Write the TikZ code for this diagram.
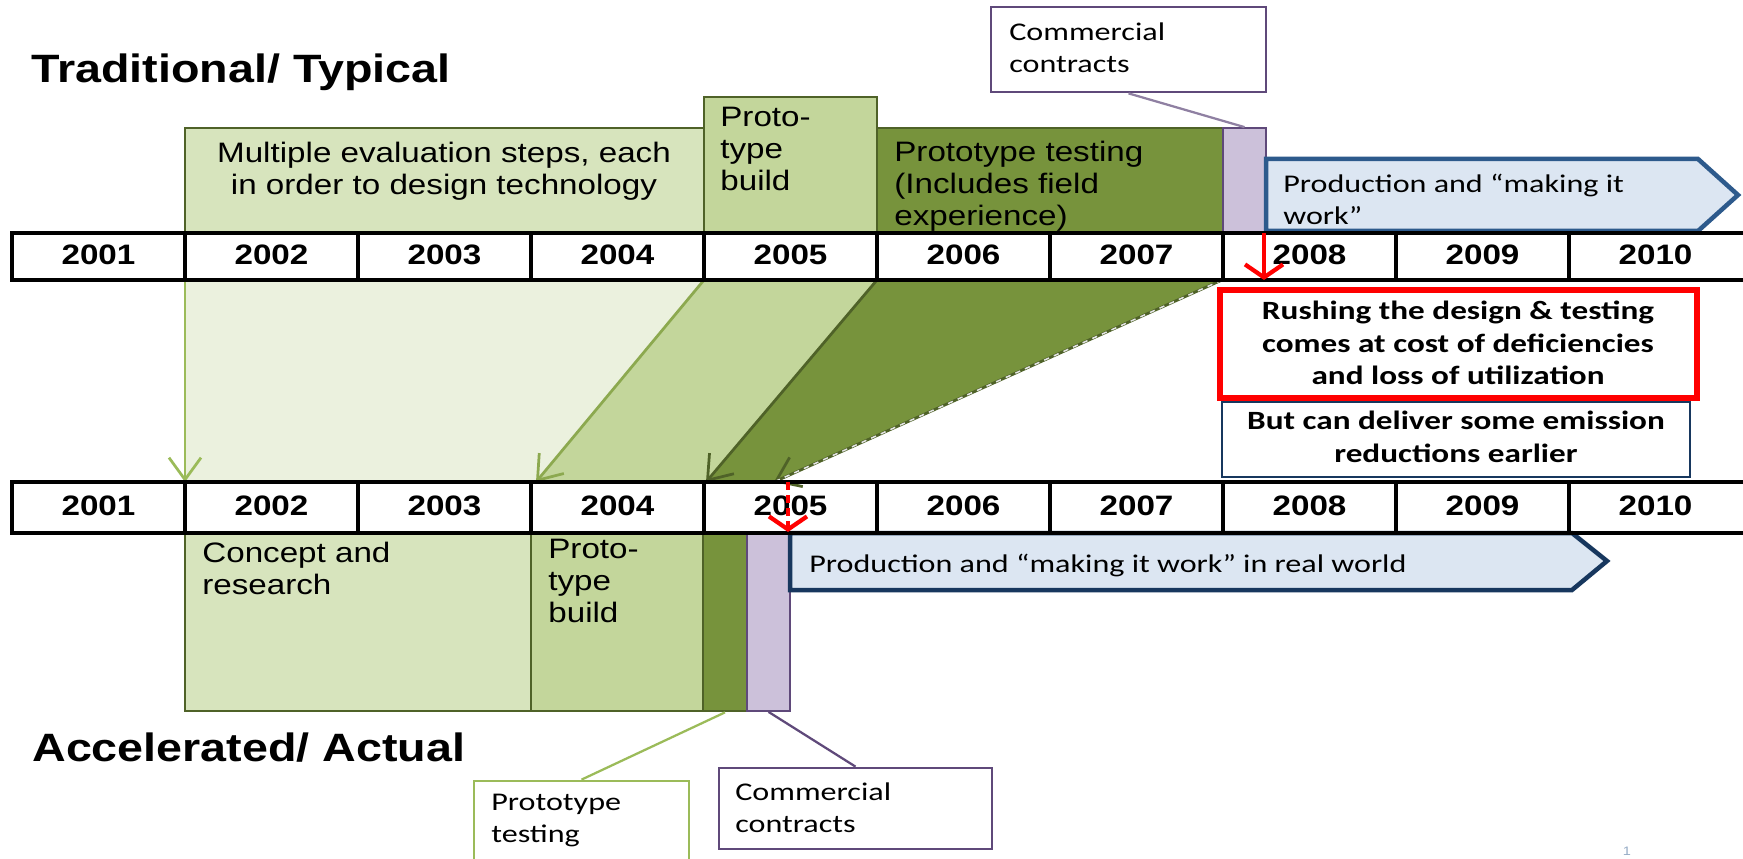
\documentclass[tikz,border=0pt]{standalone}
\usepackage{fontspec}
\setmainfont{Liberation Sans}[FakeStretch=1.18]
\newfontfamily\calfont{Carlito}[FakeStretch=1.26]
\usetikzlibrary{arrows.meta}
\usetikzlibrary{fit}
\definecolor{palegreen}{RGB}{235,241,222}
\definecolor{lightolive}{RGB}{215,228,189}
\definecolor{midolive}{RGB}{195,214,155}
\definecolor{darkolive}{RGB}{119,147,60}
\definecolor{olivedge}{RGB}{79,98,40}
\definecolor{olivearrow}{RGB}{155,187,89}
\definecolor{lilac}{RGB}{204,193,218}
\definecolor{lilacedge}{RGB}{95,73,122}
\definecolor{prodfill}{RGB}{220,230,242}
\definecolor{prodedge}{RGB}{45,90,140}
\definecolor{navy}{RGB}{23,55,94}

\begin{document}
\begin{tikzpicture}[x=0.2mm, y=-0.2mm,
	gbox/.style={inner sep=0pt, draw=olivedge, line width=0.55mm},
	lbox/.style={inner sep=0pt, draw=lilacedge, fill=lilac, line width=0.35mm},
	callbox/.style={inner sep=0pt, fill=white, line width=0.55mm},
	txt/.style={inner sep=0pt, align=left, anchor=north west, font=\fontsize{16}{18.2}\selectfont},
	ctxt/.style={inner sep=0pt, align=left, anchor=north west, font=\calfont\fontsize{14.5}{18.2}\selectfont},
	btxt/.style={inner sep=0pt, align=center, anchor=north, font=\calfont\fontsize{15}{18.5}\selectfont\bfseries},
	year/.style={inner sep=0pt, font=\fontsize{16}{18}\selectfont\bfseries},
	yearline/.style={line width=0.7mm},
	garrow/.style={line width=0.55mm, -{Straight Barb[length=4.4mm, width=6.4mm]}},
	rarrow/.style={red, line width=0.85mm, -{Straight Barb[length=2.6mm, width=7.6mm]}},
	headline/.style={inner sep=0pt, anchor=base west, font=\fontsize{22.5}{26}\selectfont\bfseries}]

	\useasboundingbox[fill=white] (0,0) rectangle (1743,859);

	\node[headline] (trad) at (31,83) {Traditional/ Typical};
	\node[headline] (accel) at (32,761) {Accelerated/ Actual};

	% shift from the typical to the actual time line
	\coordinate (u1) at (185,280);
	\coordinate (u2) at (704,280);
	\coordinate (u3) at (877,280);
	\coordinate (u4) at (1222,280);
	\coordinate (l1) at (185,482);
	\coordinate (l2) at (536,482);
	\coordinate (l3) at (706,482);
	\coordinate (l4) at (774,482);
	\fill[palegreen] (u1) -- (u2) -- (l2) -- (l1) -- cycle;
	\fill[midolive] (u2) -- (u3) -- (l3) -- (l2) -- cycle;
	\fill[darkolive] (u3) -- (u4) -- (l4) -- (l3) -- cycle;
	\draw[garrow, olivearrow] (u1) -- (l1);
	\draw[garrow, olivearrow!80!olivedge] (u2) -- (l2);
	\draw[garrow, olivedge] (u3) -- (l3);
	\draw[garrow, olivedge] (u4) -- (l4);
	\draw[white!80!gray, dashed, line width=0.3mm] (u4) -- (l4);

	% typical
	\node[gbox, fill=lightolive, fit={(185,128) (704,233)}] (multi) {};
	\node[gbox, fill=midolive, fit={(704,97) (877,233)}] (ptop) {};
	\node[gbox, fill=darkolive, fit={(877,128) (1223,233)}] (ttop) {};
	\node[lbox, fit={(1223,128) (1266,233)}] (ctop) {};
	\draw[prodedge, fill=prodfill, line width=0.9mm] (1266,159) -- (1698,159) -- (1738,195) -- (1698,231) -- (1266,231) -- cycle;

	\node[txt, anchor=north, align=center] (multitxt) at (444,142) {Multiple evaluation steps, each\\in order to design technology};
	\node[txt] (ptoptxt) at (720,107) {Proto-\\type\\build};
	\node[txt] (ttoptxt) at (894,141) {Prototype testing\\(Includes field\\experience)};
	\node[ctxt] (prodtoptxt) at (1283,174) {Production and “making it\\work”};

	\node[callbox, draw=lilacedge, fit={(991,7) (1266,92)}] (calltop) {};
	\node[ctxt] (calltoptxt) at (1009,22) {Commercial\\contracts};
	\draw[lilacedge!70, line width=0.45mm] (calltop.south) -- (ctop.north);

	% actual
	\node[gbox, fill=lightolive, fit={(185,533) (531,711)}] (concept) {};
	\node[gbox, fill=midolive, fit={(531,533) (703,711)}] (pbot) {};
	\node[gbox, fill=darkolive, fit={(703,533) (747,711)}] (tbot) {};
	\node[lbox, fit={(747,533) (790,711)}] (cbot) {};
	\draw[navy, fill=prodfill, line width=0.9mm] (790,533) -- (1572,533) -- (1607,561) -- (1572,590) -- (790,590) -- cycle;

	\node[txt] (concepttxt) at (202,542) {Concept and\\research};
	\node[txt] (pbottxt) at (548,539) {Proto-\\type\\build};
	\node[ctxt] (prodbottxt) at (809,554) {Production and “making it work” in real world};

	\node[callbox, draw=olivearrow, fit={(474,781) (689,875)}] (callpt) {};
	\node[ctxt] (callpttxt) at (491,794) {Prototype\\testing};
	\draw[olivearrow, line width=0.45mm] (callpt.north) -- (tbot.south);
	\node[callbox, draw=lilacedge, fit={(719,768) (992,849)}] (callcc) {};
	\node[ctxt] (callcctxt) at (735,782) {Commercial\\contracts};
	\draw[lilacedge, line width=0.45mm] (callcc.north) -- (cbot.south);

	% the two time lines
	\foreach \y/\h/\r in {233/47/t,482/51/b} {
		\draw[yearline] (1743,\y) -- (12,\y) -- (12,\y+\h) -- (1743,\y+\h);
		\foreach \i in {1,...,9}
			\draw[yearline] ({12+173*\i},\y) -- ++(0,\h);
		\foreach \yr [count=\i from 0] in {2001,...,2010}
			\node[year] (\r\yr) at ({98.5+173*\i},\y+\h/2-2) {\yr};
	}

	\node[draw=red, line width=1.1mm, inner sep=0pt, fit={(1220,290) (1697,398)}] (rush) {};
	\node[btxt] (rushtxt) at (1458,301) {Rushing the design \& testing\\comes at cost of deficiencies\\and loss of utilization};
	\node[draw=navy, line width=0.5mm, inner sep=0pt, fit={(1222,402) (1690,477)}] (deliver) {};
	\node[btxt] (delivertxt) at (1456,411) {But can deliver some emission\\reductions earlier};

	\coordinate (r1) at (1264,233);
	\coordinate (r2) at (1264,280);
	\coordinate (r3) at (788,482);
	\coordinate (r4) at (788,532);
	\draw[rarrow] (r1) -- (r2);
	\draw[rarrow, dash pattern=on 1.6mm off 1mm] (r3) -- (r4);

	\node[inner sep=0pt, text=prodedge!50, font=\fontsize{7}{8}\selectfont] (pageno) at (1627,851) {1};

\end{tikzpicture}
\end{document}
